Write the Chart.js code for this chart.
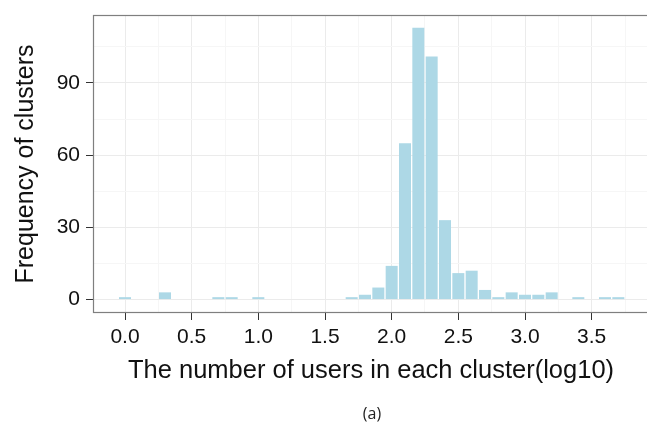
<!DOCTYPE html>
<html>
<head>
<meta charset="utf-8">
<script src="https://cdn.jsdelivr.net/npm/chart.js@4/dist/chart.umd.min.js"></script>
<style>
  html, body { margin: 0; padding: 0; background: #ffffff; overflow: hidden; width: 647px; height: 433px; }
  #wrap { position: relative; width: 652px; height: 433px; }
  #cap { position: absolute; left: 332px; width: 80px; top: 403px; text-align: center;
         font-family: "Open Sans", "Noto Sans", sans-serif; font-size: 16px; color: #222; line-height: 20px; }
</style>
</head>
<body>
<div id="wrap">
  <canvas id="c" width="652" height="433"></canvas>
  <div id="cap">(a)</div>
</div>
<script>
// Bin centres (log10 of users per cluster) and observed frequencies
const binCenters = [0.0, 0.1, 0.2, 0.3, 0.4, 0.5, 0.6, 0.7, 0.8, 0.9,
                    1.0, 1.1, 1.2, 1.3, 1.4, 1.5, 1.6, 1.7, 1.8, 1.9,
                    2.0, 2.1, 2.2, 2.3, 2.4, 2.5, 2.6, 2.7, 2.8, 2.9,
                    3.0, 3.1, 3.2, 3.3, 3.4, 3.5, 3.6, 3.7];
const clusterFreq = [1, 0, 0, 3, 0, 0, 0, 1, 1, 0,
                     1, 0, 0, 0, 0, 0, 0, 1, 2, 5,
                     14, 65, 113, 101, 33, 11, 12, 4, 1, 3,
                     2, 2, 3, 0, 1, 0, 1, 1];
const xTickValues = [0, 0.25, 0.5, 0.75, 1, 1.25, 1.5, 1.75, 2, 2.25, 2.5, 2.75, 3, 3.25, 3.5, 3.75];
const yTickValues = [0, 15, 30, 45, 60, 75, 90, 105];
const xMajorLabels = ["0.0", "0.5", "1.0", "1.5", "2.0", "2.5", "3.0", "3.5"];
const yMajorLabels = ["0", "30", "60", "90"];

const FONT = '"Liberation Sans", Arial, Helvetica, sans-serif';
const isMajorX = v => Math.abs(v * 2 - Math.round(v * 2)) < 1e-6;
const isMajorY = v => Math.abs(v % 30) < 1e-6;

const borderPlugin = {
  id: 'panelBorder',
  afterDraw(chart) {
    const a = chart.chartArea, ctx = chart.ctx;
    ctx.save();
    ctx.strokeStyle = '#7f7f7f';
    ctx.lineWidth = 1.2;
    ctx.strokeRect(Math.round(a.left) - 0.5, Math.round(a.top) + 0.5,
                   Math.round(a.right - a.left) + 1, Math.round(a.bottom - a.top) - 1);
    ctx.restore();
  }
};

new Chart(document.getElementById('c'), {
  type: 'bar',
  data: {
    datasets: [{
      data: binCenters.map((x, i) => ({ x: x, y: clusterFreq[i] })),
      backgroundColor: '#ADD8E6',
      borderWidth: 0,
      barPercentage: 0.9,
      categoryPercentage: 1.0
    }]
  },
  options: {
    responsive: false,
    animation: false,
    devicePixelRatio: 1,
    layout: { padding: { left: 0, top: 15, right: 4, bottom: 40 } },
    plugins: { legend: { display: false }, tooltip: { enabled: false } },
    scales: {
      x: {
        type: 'linear',
        min: -0.2325,
        max: 3.9225,
        offset: false,
        afterBuildTicks(scale) { scale.ticks = xTickValues.map(v => ({ value: v })); },
        afterFit(scale) { scale.height = 80; scale.paddingLeft = 0; scale.paddingRight = 0; },
        border: { display: false },
        grid: {
          offset: false,
          color: c => (c.tick && isMajorX(c.tick.value)) ? '#EBEBEB' : '#F6F6F6',
          tickColor: c => (c.tick && isMajorX(c.tick.value)) ? '#333333' : 'rgba(0,0,0,0)',
          tickLength: 7,
          lineWidth: 1
        },
        ticks: {
          autoSkip: false, maxRotation: 0, minRotation: 0, padding: 5,
          color: '#111111',
          font: { family: FONT, size: 21 },
          callback: v => isMajorX(v) ? xMajorLabels[Math.round(v * 2)] : ''
        },
        title: {
          display: true,
          text: 'The number of users in each cluster(log10)',
          color: '#111111',
          font: { family: FONT, size: 25.5 },
          padding: { top: 7, bottom: 7 }
        }
      },
      y: {
        type: 'linear',
        min: -5.58,
        max: 118.25,
        afterBuildTicks(scale) { scale.ticks = yTickValues.map(v => ({ value: v })); },
        afterFit(scale) { scale.width = 94; scale.paddingTop = 0; scale.paddingBottom = 0; },
        border: { display: false },
        grid: {
          color: c => (c.tick && isMajorY(c.tick.value)) ? '#EBEBEB' : '#F6F6F6',
          tickColor: c => (c.tick && isMajorY(c.tick.value)) ? '#333333' : 'rgba(0,0,0,0)',
          tickLength: 8,
          lineWidth: 1
        },
        ticks: {
          autoSkip: false, padding: 6,
          color: '#111111',
          font: { family: FONT, size: 21 },
          callback: v => isMajorY(v) ? yMajorLabels[Math.round(v / 30)] : ''
        },
        title: {
          display: true,
          text: 'Frequency of clusters',
          color: '#111111',
          font: { family: FONT, size: 25 },
          padding: { top: 11, bottom: 11 }
        }
      }
    }
  },
  plugins: [borderPlugin]
});
</script>
</body>
</html>
